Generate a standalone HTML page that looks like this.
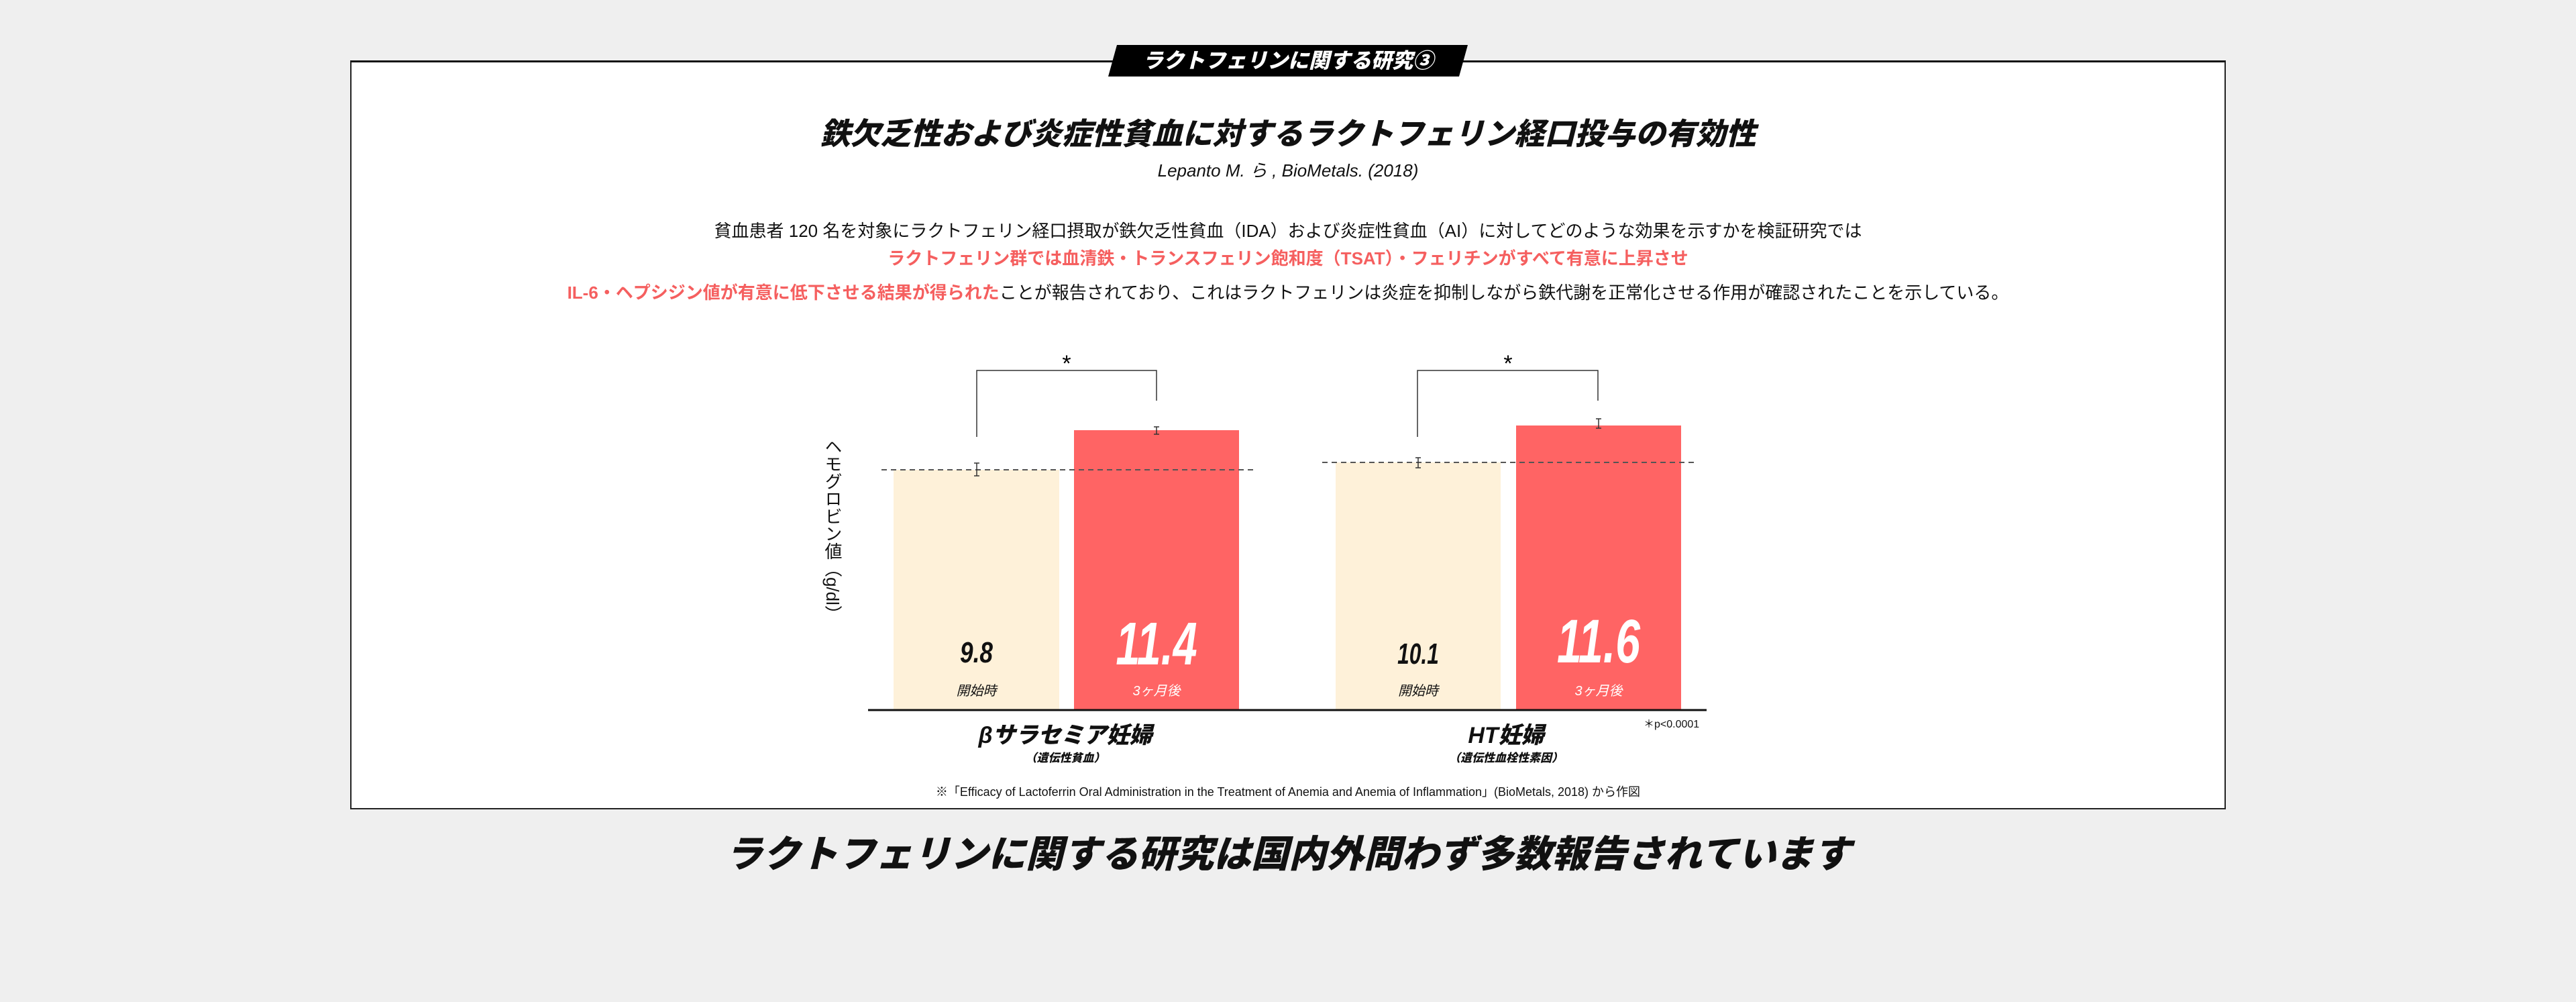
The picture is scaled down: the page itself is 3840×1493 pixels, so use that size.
<!DOCTYPE html>
<html><head><meta charset="utf-8"><style>
*{margin:0;padding:0;box-sizing:border-box}
body{width:3840px;height:1493px;background:#efefef;position:relative;overflow:hidden;font-family:"Liberation Sans","Noto Sans CJK JP",sans-serif;color:#111}
.abs{position:absolute}
.c{text-align:center;white-space:nowrap}
.bi{font-weight:900;font-style:italic}
</style></head><body>
<div class="abs" style="left:522px;top:90px;width:2796px;height:1116px;background:#fff;border:2px solid #222;border-top:3px solid #111"></div>
<div class="abs" style="left:1652px;top:67px;width:536px;height:47px;background:#000;clip-path:polygon(13px 0,536px 0,523px 47px,0 47px)"></div>
<div class="abs c bi" style="left:1652px;top:71px;width:536px;font-size:31px;line-height:40px;color:#fff">ラクトフェリンに関する研究③</div>
<div class="abs c bi" style="left:0;width:3840px;top:172px;font-size:45px;line-height:56px">鉄欠乏性および炎症性貧血に対するラクトフェリン経口投与の有効性</div>
<div class="abs c" style="left:0;width:3840px;top:238px;font-size:26px;font-style:italic;line-height:32px">Lepanto M. ら , BioMetals. (2018)</div>
<div class="abs c" style="left:0;width:3840px;top:328px;font-size:26px;line-height:32px">貧血患者 120 名を対象にラクトフェリン経口摂取が鉄欠乏性貧血（IDA）および炎症性貧血（AI）に対してどのような効果を示すかを検証研究では</div>
<div class="abs c" style="left:0;width:3840px;top:369px;font-size:26px;line-height:32px;color:#f55f5f;font-weight:bold">ラクトフェリン群では血清鉄・トランスフェリン飽和度（TSAT）・フェリチンがすべて有意に上昇させ</div>
<div class="abs c" style="left:0;width:3840px;top:420px;font-size:26px;line-height:32px"><span style="color:#f55f5f;font-weight:bold">IL-6・ヘプシジン値が有意に低下させる結果が得られた</span>ことが報告されており、これはラクトフェリンは炎症を抑制しながら鉄代謝を正常化させる作用が確認されたことを示している。</div>

<svg class="abs" style="left:0;top:0" width="3840" height="1493">
<rect x="1332" y="700" width="247" height="358" fill="#fef1d9"/>
<rect x="1601" y="641" width="246" height="417" fill="#ff6464"/>
<rect x="1991" y="689" width="246" height="369" fill="#fef1d9"/>
<rect x="2260" y="634" width="246" height="424" fill="#ff6464"/>
<line x1="1294" y1="1058" x2="2544" y2="1058" stroke="#111" stroke-width="3"/>
<line x1="1314" y1="700" x2="1868" y2="700" stroke="#555" stroke-width="2" stroke-dasharray="8,6"/>
<line x1="1971" y1="689" x2="2526" y2="689" stroke="#555" stroke-width="2" stroke-dasharray="8,6"/>
<g stroke="#333" stroke-width="1.5" fill="none">
<path d="M1456 651V552H1724V597"/><path d="M2113 651V552H2382V597"/>
<path d="M1456 690V709M1452 690H1460M1452 709H1460"/>
<path d="M1724 636V647M1720 636H1728M1720 647H1728"/>
<path d="M2114 682V697M2110 682H2118M2110 697H2118"/>
<path d="M2383 624V638M2379 624H2387M2379 638H2387"/>
</g>
<text x="1590" y="553" font-size="34" text-anchor="middle" font-family="Liberation Sans">*</text>
<text x="2248" y="553" font-size="34" text-anchor="middle" font-family="Liberation Sans">*</text>
</svg>
<div class="abs" style="left:1222px;top:652px;width:34px;font-size:26px;line-height:30px;writing-mode:vertical-rl;font-family:'Liberation Sans','Noto Sans CJK JP',sans-serif">ヘモグロビン値（g/dl）</div>
<div class="abs c bi" style="left:1332px;width:247px;top:948px;font-size:44px;line-height:50px;transform:scaleX(0.8)">9.8</div>
<div class="abs c bi" style="left:1601px;width:246px;top:915px;font-size:90px;line-height:90px;color:#fff;transform:scaleX(0.72)">11.4</div>
<div class="abs c bi" style="left:1991px;width:246px;top:950px;font-size:44px;line-height:50px;transform:scaleX(0.72)">10.1</div>
<div class="abs c bi" style="left:2260px;width:246px;top:910px;font-size:92px;line-height:92px;color:#fff;transform:scaleX(0.72)">11.6</div>
<div class="abs c" style="left:1332px;width:247px;top:1013px;font-size:20px;font-style:italic">開始時</div>
<div class="abs c" style="left:1601px;width:246px;top:1013px;font-size:20px;font-style:italic;color:#fff">3ヶ月後</div>
<div class="abs c" style="left:1991px;width:246px;top:1013px;font-size:20px;font-style:italic">開始時</div>
<div class="abs c" style="left:2260px;width:246px;top:1013px;font-size:20px;font-style:italic;color:#fff">3ヶ月後</div>
<div class="abs c bi" style="left:1388px;width:400px;top:1076px;font-size:34px;line-height:40px">βサラセミア妊婦</div>
<div class="abs c bi" style="left:1388px;width:400px;top:1119px;font-size:17px;line-height:22px">（遺伝性貧血）</div>
<div class="abs c bi" style="left:2045px;width:400px;top:1076px;font-size:34px;line-height:40px">HT妊婦</div>
<div class="abs c bi" style="left:2045px;width:400px;top:1119px;font-size:17px;line-height:22px">（遺伝性血栓性素因）</div>
<div class="abs" style="left:2450px;top:1065px;font-size:16px;white-space:nowrap">＊p&lt;0.0001</div>
<div class="abs c" style="left:0;width:3840px;top:1168px;font-size:18px;line-height:24px">※「Efficacy of Lactoferrin Oral Administration in the Treatment of Anemia and Anemia of Inflammation」(BioMetals, 2018) から作図</div>
<div class="abs c bi" style="left:0;width:3840px;top:1240px;font-size:56px;line-height:66px">ラクトフェリンに関する研究は国内外問わず多数報告されています</div>
</body></html>
